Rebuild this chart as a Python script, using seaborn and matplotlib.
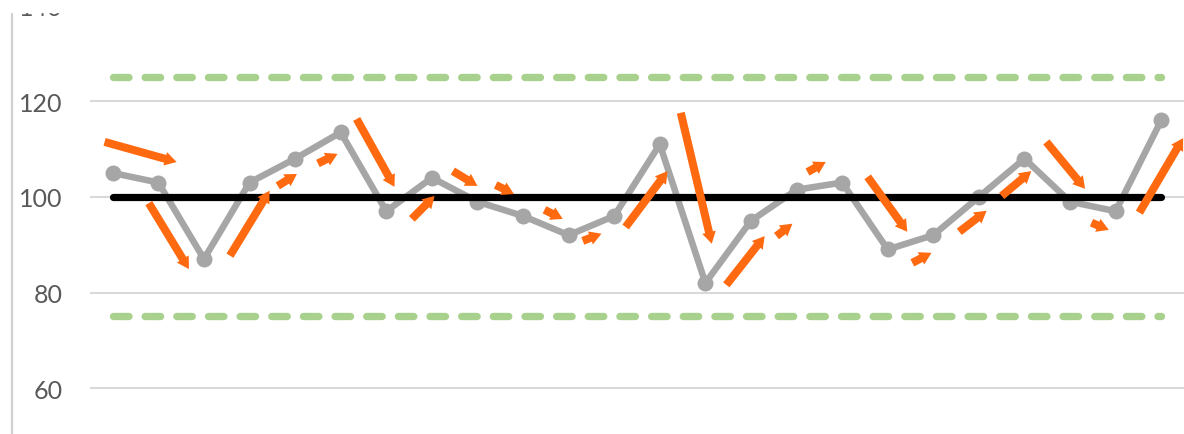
import matplotlib
matplotlib.use("Agg")
import matplotlib.pyplot as plt
import seaborn as sns
from matplotlib.patches import FancyArrowPatch, Rectangle
from matplotlib.lines import Line2D

# Measurements, one per sample
sample_no = list(range(24))
measure = [105, 103, 87, 103, 108, 113.5, 97, 104, 99, 96, 92, 96,
           111, 82, 95, 101.5, 103, 89, 92, 100, 108, 99, 97, 116]

# Control lines
center = 100
upper_limit = 125
lower_limit = 75
y_ticks = [60, 80, 100, 120, 140]

# Orange trend arrows (tail x, tail y, head x, head y) in data units
arrow_tail_x = [-0.18, 0.79, 2.57, 3.62, 4.50, 5.35, 6.56, 7.46, 8.40, 9.47, 10.31, 11.25,
                12.46, 13.46, 14.56, 15.24, 16.56, 17.54, 18.57, 19.50, 20.48, 21.47, 22.52]
arrow_tail_y = [111.5, 98.7, 87.7, 102.3, 107.0, 116.3, 95.4, 105.4, 102.5, 97.3, 90.8, 93.7,
                117.6, 81.6, 91.8, 105.2, 104.2, 86.2, 92.7, 100.2, 111.5, 94.6, 96.7]
arrow_head_x = [1.40, 1.67, 3.44, 4.04, 4.93, 6.18, 7.06, 8.00, 8.80, 9.87, 10.72, 12.17,
                13.14, 14.30, 14.91, 15.64, 17.43, 17.96, 19.17, 20.15, 21.33, 21.85, 23.48]
arrow_head_y = [107.3, 84.9, 101.3, 104.8, 109.0, 102.1, 100.2, 102.3, 100.6, 95.4, 92.3, 105.4,
                90.2, 91.8, 94.4, 107.3, 92.7, 88.3, 97.1, 105.4, 101.7, 93.1, 112.3]

sns.set_style("white")
plt.rcParams['font.family'] = ['Lato', 'DejaVu Sans']

fig = plt.figure(figsize=(11.84, 4.35), dpi=100)
ax = fig.add_axes([90 / 1184, 0, 1 - 90 / 1184, 1])

# control limits (dashed green)
for lim in [upper_limit, lower_limit]:
    ax.plot([sample_no[0], sample_no[-1]], [lim, lim], color='#a9d18e', lw=5.3,
            linestyle=(0, (2.1, 2.2)), dash_capstyle='round', zorder=2)

# measurement series
sns.lineplot(x=sample_no, y=measure, ax=ax, color='#a6a6a6', lw=4.7, marker='o',
             markersize=11.5, markeredgewidth=0, zorder=3)

# center line
ax.plot([sample_no[0], sample_no[-1]], [center, center], color='black', lw=5.2,
        solid_capstyle='round', zorder=4)

# arrows
for tx, ty, hx, hy in zip(arrow_tail_x, arrow_tail_y, arrow_head_x, arrow_head_y):
    arr = FancyArrowPatch((tx, ty), (hx, hy),
                          arrowstyle='simple,head_length=0.85,head_width=1.0,tail_width=0.58',
                          mutation_scale=10, color='#ff6a10', lw=0,
                          shrinkA=0, shrinkB=0, zorder=5)
    ax.add_patch(arr)

ax.set_xlim(-0.5, 23.5)
ax.set_ylim(50.4, 141.4)
ax.set_yticks(y_ticks)
ax.set_xticks([])
ax.yaxis.grid(True, color='#d9d9d9', lw=1.5)
ax.set_axisbelow(True)
for s in ax.spines.values():
    s.set_visible(False)
ax.tick_params(axis='y', length=0, pad=19.5, labelsize=18, labelcolor='#595959')

# thin axis line on the far left and the cropped top strip
fig.add_artist(Line2D([12 / 1184, 12 / 1184], [0, 1], transform=fig.transFigure,
                      color='#d0d0d0', lw=1.6, zorder=9))
fig.add_artist(Rectangle((0, 1 - 13 / 435), 1, 13 / 435, transform=fig.transFigure,
                         color='white', zorder=10))

fig.savefig('out.png', dpi=100)
